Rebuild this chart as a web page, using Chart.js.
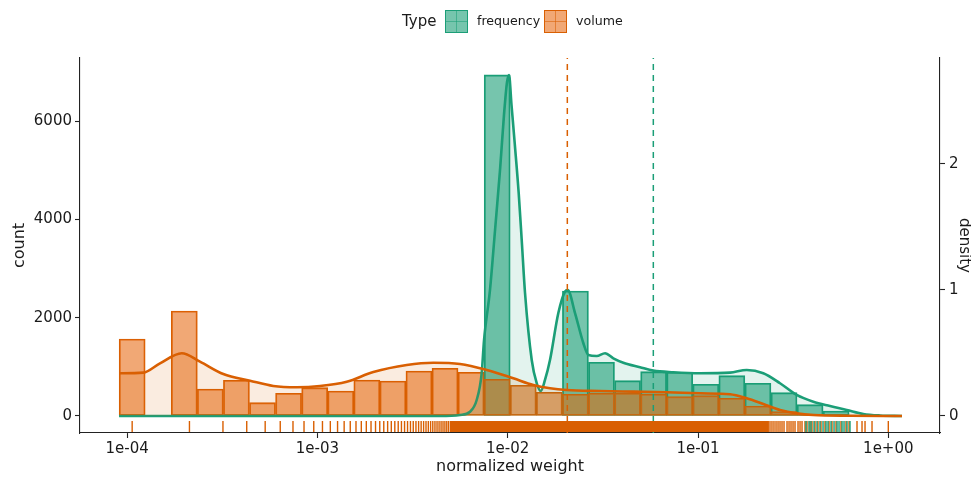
<!DOCTYPE html>
<html>
<head>
<meta charset="utf-8">
<title>normalized weight</title>
<script src="https://cdn.jsdelivr.net/npm/chart.js@4.4.1/dist/chart.umd.min.js"></script>
<style>
  html, body { margin: 0; padding: 0; background: #fff; }
  #wrap { position: relative; width: 971px; height: 478px; font-family: "DejaVu Sans", sans-serif; color: #1a1a1a; }
  #chart { position: absolute; left: 0; top: 0; }
  .lg { position: absolute; white-space: nowrap; line-height: 18px; }
  .key { position: absolute; top: 10px; width: 23px; height: 23px; box-sizing: border-box; border: 1.5px solid; }
  .key i { position: absolute; opacity: 0.55; }
  .key .v { left: 9.5px; top: 0; width: 1px; height: 100%; }
  .key .h { top: 9.5px; left: 0; height: 1px; width: 100%; }
</style>
</head>
<body>
<div id="wrap">
  <canvas id="chart" width="971" height="478"></canvas>
  <div class="lg" style="left:402px; top:12px; font-size:15px;">Type</div>
  <div class="key" style="left:445px; background:rgba(27,158,119,0.6); border-color:#1b9e77;"><i class="v" style="background:#1b9e77"></i><i class="h" style="background:#1b9e77"></i></div>
  <div class="lg" style="left:477px; top:12px; font-size:12.6px;">frequency</div>
  <div class="key" style="left:544px; background:rgba(232,110,25,0.6); border-color:#d95f02;"><i class="v" style="background:#d95f02"></i><i class="h" style="background:#d95f02"></i></div>
  <div class="lg" style="left:576px; top:12px; font-size:12.6px;">volume</div>
</div>
<script>
var TEAL = '#1b9e77';
var ORANGE = '#d95f02';

// histogram bins, centres on the weight axis (log spaced)
var binCenters = [1.063e-4, 1.457e-4, 1.998e-4, 2.739e-4, 3.754e-4, 5.146e-4, 7.055e-4, 9.674e-4,
  1.326e-3, 1.818e-3, 2.492e-3, 3.417e-3, 4.684e-3, 6.420e-3, 8.805e-3, 1.207e-2, 1.655e-2, 2.269e-2,
  3.110e-2, 4.264e-2, 5.845e-2, 8.014e-2, 0.1099, 0.1506, 0.2065, 0.2831, 0.3881, 0.5321, 0.7295, 1.000];
var frequencyCounts = [null, null, null, null, null, null, null, null, null, null, null, null, null, null,
  6940, null, null, 2543, 1092, 719, 902, 889, 645, 820, 665, 474, 230, 102, 8, 2];
var volumeCounts = [1567, null, 2137, 549, 726, 271, 462, 576, 509, 732, 712, 915, 970, 889,
  746, 624, 482, 441, 462, 462, 441, 393, 415, 360, 203, 88, 40, 8, 2, 1];

// density curves (right axis)
var frequencyDensityX = [9.07e-5, 4.41e-3, 5.62e-3, 6.34e-3, 6.87e-3, 7.30e-3, 7.51e-3, 8.07e-3, 8.58e-3,
  9.11e-3, 9.56e-3, 9.92e-3, 1.016e-2, 1.047e-2, 1.088e-2, 1.142e-2, 1.189e-2, 1.233e-2, 1.337e-2,
  1.420e-2, 1.491e-2, 1.570e-2, 1.668e-2, 1.845e-2, 2.000e-2, 2.067e-2, 2.258e-2, 2.496e-2, 2.652e-2,
  2.936e-2, 3.246e-2, 3.589e-2, 4.051e-2, 4.957e-2, 5.823e-2, 7.418e-2, 0.1024, 0.1473, 0.1803, 0.2203,
  0.2697, 0.3301, 0.4036, 0.4939, 0.6045, 0.7390, 0.9046, 1.180];
var frequencyDensityY = [0, 0, 0.008, 0.034, 0.127, 0.341, 0.603, 1.0, 1.476, 1.952, 2.389, 2.651, 2.706,
  2.468, 2.167, 1.770, 1.357, 0.976, 0.444, 0.260, 0.198, 0.286, 0.444, 0.817, 0.987, 1.0, 0.817, 0.579,
  0.484, 0.476, 0.498, 0.458, 0.423, 0.387, 0.360, 0.347, 0.339, 0.344, 0.365, 0.339, 0.260, 0.167,
  0.113, 0.079, 0.048, 0.016, 0.004, 0];
var volumeDensityX = [9.07e-5, 1.216e-4, 1.489e-4, 1.936e-4, 2.415e-4, 3.203e-4, 4.424e-4, 5.865e-4,
  7.784e-4, 1.032e-3, 1.426e-3, 1.967e-3, 2.947e-3, 4.066e-3, 5.615e-3, 7.757e-3, 1.070e-2, 1.363e-2,
  1.668e-2, 2.042e-2, 3.055e-2, 4.571e-2, 6.847e-2, 0.1024, 0.1473, 0.1803, 0.2203, 0.2697, 0.3301,
  0.4036, 0.6291, 1.180];
var volumeDensityY = [0.339, 0.344, 0.418, 0.498, 0.431, 0.333, 0.280, 0.238, 0.228, 0.238, 0.272, 0.349,
  0.405, 0.423, 0.413, 0.365, 0.299, 0.246, 0.220, 0.206, 0.198, 0.193, 0.188, 0.180, 0.172, 0.140,
  0.095, 0.048, 0.021, 0.008, 0.002, 0];

// mean lines
var frequencyMean = 0.05823;
var volumeMean = 0.02057;

// rug marks
var volumeRug = [1.063e-4, 2.126e-4, 3.189e-4, 4.252e-4, 5.315e-4, 6.378e-4, 7.441e-4, 8.504e-4, 9.567e-4,
  1.063e-3, 1.169e-3, 1.276e-3, 1.382e-3, 1.488e-3, 1.595e-3, 1.701e-3, 1.807e-3, 1.913e-3, 2.020e-3,
  2.126e-3, 2.232e-3, 2.339e-3, 2.445e-3, 2.551e-3, 2.658e-3, 2.764e-3, 2.870e-3, 2.976e-3, 3.083e-3,
  3.189e-3, 3.295e-3, 3.402e-3, 3.508e-3, 3.614e-3, 3.721e-3, 3.827e-3, 3.933e-3, 4.039e-3, 4.146e-3,
  4.252e-3, 4.358e-3, 4.465e-3, 4.571e-3, 4.677e-3, 4.784e-3, 4.890e-3,
  0.2389, 0.2447, 0.2507, 0.2570, 0.2633, 0.2697, 0.2763, 0.2831, 0.2936, 0.3008, 0.3081, 0.3157,
  0.3234, 0.3354, 0.3436, 0.3520, 0.3649, 0.3738, 0.3877, 0.3972, 0.4120, 0.4270, 0.4429, 0.4648,
  0.4880, 0.5059, 0.5311, 0.5641, 0.5993, 0.6217, 0.6847, 0.7275, 0.7545, 0.8211, 1.000];
var volumeRugDense = [4.95e-3, 0.236];
var frequencyRug = [0.3694, 0.3830, 0.3925, 0.4070, 0.4220, 0.4376, 0.4539, 0.4706, 0.4821, 0.5000,
  0.5185, 0.5377, 0.5508, 0.5712, 0.5851, 0.6067, 0.6291];

var xTicks = [1e-4, 1e-3, 1e-2, 1e-1, 1];
var countTicks = [0, 2000, 4000, 6000];
var densityTicks = [0, 1, 2];

// axis limits
var X_MIN = 5.655e-5, X_MAX = 1.869;
var COUNT_MIN = -346, COUNT_MAX = 7284;
var DENS_MIN = -0.135, DENS_MAX = 2.841;
// rug band sits in the strip below zero (count axis units)
var RUG_Y = -214, RUG_TOP = -100, RUG_BOTTOM = -325;

function pairs(xs, ys) {
  var out = [];
  for (var i = 0; i < xs.length; i++) out.push({x: xs[i], y: ys[i]});
  return out;
}
function rugPoints(xs) {
  return xs.map(function (v) { return {x: v, y: RUG_Y}; });
}
function fmtSci(v) {
  var e = Math.round(Math.log10(v));
  var a = Math.abs(e);
  return '1e' + (e < 0 ? '-' : '+') + (a < 10 ? '0' + a : a);
}

Chart.defaults.font.family = '"DejaVu Sans", sans-serif';
Chart.defaults.color = '#1a1a1a';

var axisLine = {display: true, color: '#222', width: 1.1};
var tickGrid = {drawOnChartArea: false, drawTicks: true, tickLength: 5, tickColor: '#222', tickWidth: 1.1};

new Chart(document.getElementById('chart'), {
  type: 'bar',
  data: {
    datasets: [
      {
        type: 'scatter', label: 'frequency rug', data: rugPoints(frequencyRug), order: 1,
        pointStyle: 'line', rotation: 90, pointRadius: 5.5, pointBorderWidth: 1.4,
        borderColor: TEAL, backgroundColor: TEAL
      },
      {
        type: 'scatter', label: 'volume rug', data: rugPoints(volumeRug), order: 2,
        pointStyle: 'line', rotation: 90, pointRadius: 5.5, pointBorderWidth: 1.4,
        borderColor: ORANGE, backgroundColor: ORANGE
      },
      {
        type: 'line', label: 'volume rug dense', order: 3,
        data: [{x: volumeRugDense[0], y: RUG_TOP}, {x: volumeRugDense[1], y: RUG_TOP}],
        borderWidth: 0, pointRadius: 0, fill: {value: RUG_BOTTOM}, backgroundColor: ORANGE
      },
      {
        type: 'line', label: 'volume mean', order: 4,
        data: [{x: volumeMean, y: COUNT_MIN}, {x: volumeMean, y: COUNT_MAX}],
        borderColor: ORANGE, borderWidth: 1.5, borderDash: [6, 5], pointRadius: 0, fill: false
      },
      {
        type: 'line', label: 'frequency mean', order: 5,
        data: [{x: frequencyMean, y: COUNT_MIN}, {x: frequencyMean, y: COUNT_MAX}],
        borderColor: TEAL, borderWidth: 1.5, borderDash: [6, 5], pointRadius: 0, fill: false
      },
      {
        type: 'line', label: 'volume density', yAxisID: 'yD', order: 6,
        data: pairs(volumeDensityX, volumeDensityY),
        borderColor: ORANGE, borderWidth: 2.6, backgroundColor: 'rgba(217,95,2,0.12)',
        fill: 'origin', pointRadius: 0, cubicInterpolationMode: 'monotone'
      },
      {
        type: 'line', label: 'frequency density', yAxisID: 'yD', order: 7,
        data: pairs(frequencyDensityX, frequencyDensityY),
        borderColor: TEAL, borderWidth: 2.6, backgroundColor: 'rgba(27,158,119,0.12)',
        fill: 'origin', pointRadius: 0, cubicInterpolationMode: 'monotone'
      },
      {
        label: 'volume', data: pairs(binCenters, volumeCounts), order: 8, grouped: false,
        backgroundColor: 'rgba(232,110,25,0.6)', borderColor: ORANGE, borderWidth: 1.2,
        borderSkipped: false, barPercentage: 1, categoryPercentage: 1
      },
      {
        label: 'frequency', data: pairs(binCenters, frequencyCounts), order: 9, grouped: false,
        backgroundColor: 'rgba(27,158,119,0.6)', borderColor: TEAL, borderWidth: 1.2,
        borderSkipped: false, barPercentage: 1, categoryPercentage: 1
      }
    ]
  },
  options: {
    responsive: false,
    animation: false,
    events: [],
    layout: {padding: {top: 58, left: 0, right: 0, bottom: 0}},
    plugins: {legend: {display: false}, tooltip: {enabled: false}},
    scales: {
      x: {
        type: 'logarithmic', position: 'bottom', min: X_MIN, max: X_MAX, offset: false,
        grid: Object.assign({offset: false}, tickGrid), border: axisLine,
        afterBuildTicks: function (s) { s.ticks = xTicks.map(function (v) { return {value: v}; }); },
        afterFit: function (s) { s.height = 45; },
        ticks: {autoSkip: false, maxRotation: 0, padding: 2, font: {size: 15},
          callback: function (v) { return fmtSci(v); }},
        title: {display: true, text: 'normalized weight', font: {size: 16}, padding: {top: 0, bottom: 2}}
      },
      y: {
        type: 'linear', position: 'left', min: COUNT_MIN, max: COUNT_MAX,
        grid: tickGrid, border: axisLine,
        afterBuildTicks: function (s) { s.ticks = countTicks.map(function (v) { return {value: v}; }); },
        afterFit: function (s) { s.width = 80; },
        ticks: {padding: 3, font: {size: 15}, callback: function (v) { return String(v); }},
        title: {display: true, text: 'count', font: {size: 16}, padding: {top: 10, bottom: 0}}
      },
      yD: {
        type: 'linear', position: 'right', min: DENS_MIN, max: DENS_MAX,
        grid: tickGrid, border: axisLine,
        afterBuildTicks: function (s) { s.ticks = densityTicks.map(function (v) { return {value: v}; }); },
        afterFit: function (s) { s.width = 31; },
        ticks: {padding: 4, font: {size: 15}, callback: function (v) { return String(v); }},
        title: {display: true, text: 'density', font: {size: 15, lineHeight: 1}, padding: {top: 0, bottom: 0}}
      }
    }
  }
});
</script>
</body>
</html>
